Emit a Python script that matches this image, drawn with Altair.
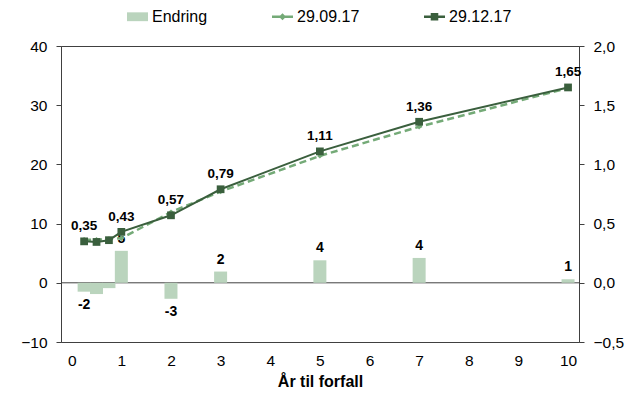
import altair as alt
import pandas as pd

# ---- data ----
maturity = [0.25, 0.5, 0.75, 1, 2, 3, 5, 7, 10]
yield_dec = [0.35, 0.345, 0.36, 0.43, 0.57, 0.79, 1.11, 1.36, 1.65]
yield_sep = [0.364, 0.364, 0.369, 0.376, 0.597, 0.771, 1.072, 1.318, 1.644]
change = [-1.5, -1.9, -0.9, 5.4, -2.7, 1.9, 3.8, 4.2, 0.6]
change_labels = ["-2", "", "", "5", "-3", "2", "4", "4", "1"]
yield_labels = ["0,35", "", "", "0,43", "0,57", "0,79", "1,11", "1,36", "1,65"]
series = ["Endring", "29.09.17", "29.12.17"]
x_ticks = [0, 1, 2, 3, 4, 5, 6, 7, 8, 9, 10]
left_ticks = [-10, 0, 10, 20, 30, 40]
right_ticks = [-0.5, 0, 0.5, 1.0, 1.5, 2.0]

C_BAR = "#bad4bd"
C_SEP = "#74aa77"
C_DEC = "#3a5f3d"
AX = "#404040"
FONT = "Liberation Sans"

df = pd.DataFrame({
    "m": maturity, "dec": yield_dec, "sep": yield_sep, "chg": change,
    "chg_lab": change_labels, "yld_lab": yield_labels,
})

x_enc = alt.X("m:Q",
              scale=alt.Scale(domain=[-0.115, 10.12], nice=False, zero=False),
              axis=alt.Axis(values=x_ticks, title="År til forfall", ticks=False, tickSize=0,
                            labelPadding=11, grid=False, domain=False,
                            labelFontSize=15.5, titleFontSize=16, titleFontWeight="bold",
                            titlePadding=5, labelColor="black", titleColor="black"))

left_scale = alt.Scale(domain=[-10, 40], nice=False, zero=False)
left_axis = alt.Axis(orient="left", values=left_ticks, title=None, grid=False,
                     tickSize=5, tickColor=AX, domainColor=AX, labelPadding=9,
                     labelFontSize=15.5, labelColor="black")
right_scale = alt.Scale(domain=[-0.5, 2.0], nice=False, zero=False)
right_axis = alt.Axis(orient="right", values=right_ticks, title=None, grid=False,
                      tickSize=5, tickColor=AX, domainColor=AX, labelPadding=9,
                      labelFontSize=15.5, labelColor="black",
                      labelExpr="replace(format(datum.value, '.1f'), '.', ',')")

base = alt.Chart(df)

zero_rule = base.mark_rule(color=AX, strokeWidth=1).encode(
    y=alt.Y("z:Q", scale=left_scale, axis=left_axis)
).transform_aggregate(n="count()").transform_calculate(z="0")

bars = base.mark_bar(color=C_BAR, size=13, clip=True).encode(
    x=x_enc, y=alt.Y("chg:Q", scale=left_scale, axis=left_axis))

bar_text = base.mark_text(fontWeight="bold", fontSize=14, color="black", baseline="middle").encode(
    x=x_enc, y=alt.Y("chg_y:Q", scale=left_scale, axis=left_axis), text="chg_lab:N"
).transform_filter("datum.chg_lab != ''").transform_calculate(
    chg_y="datum.chg >= 0 ? datum.chg + 2 : datum.chg - 2.2")

left = alt.layer(zero_rule, bars, bar_text)

y_sep_enc = alt.Y("sep:Q", scale=right_scale, axis=right_axis)
y_dec_enc = alt.Y("dec:Q", scale=right_scale, axis=right_axis)

sep_line = base.mark_line(color=C_SEP, strokeWidth=2.5, strokeDash=[7, 4]).encode(x=x_enc, y=y_sep_enc)
sep_pts = base.mark_point(shape="diamond", filled=True, size=30, color=C_SEP, opacity=1).encode(x=x_enc, y=y_sep_enc)
dec_line = base.mark_line(color=C_DEC, strokeWidth=2).encode(x=x_enc, y=y_dec_enc)
dec_pts = base.mark_point(shape="square", filled=True, size=60, color=C_DEC, opacity=1).encode(x=x_enc, y=y_dec_enc)
dec_text = base.mark_text(fontWeight="bold", fontSize=13.5, color="black", dy=-15).encode(
    x=x_enc, y=y_dec_enc, text="yld_lab:N").transform_filter("datum.yld_lab != ''")

shape_paths = [
    "M-1,-0.42L1,-0.42L1,0.42L-1,0.42Z",
    "M-1,-0.12L1,-0.12L1,0.12L-1,0.12Z M0,-0.34L0.34,0L0,0.34L-0.34,0Z",
    "M-1,-0.12L1,-0.12L1,0.12L-1,0.12Z M-0.36,-0.36L0.36,-0.36L0.36,0.36L-0.36,0.36Z",
]
leg_df = pd.DataFrame({"series": series})
legend_layer = alt.Chart(leg_df).mark_point(filled=True, opacity=1).encode(
    color=alt.Color("series:N",
                    scale=alt.Scale(domain=series, range=[C_BAR, C_SEP, C_DEC]),
                    legend=alt.Legend(orient="none", legendX=66, legendY=-40, direction="horizontal",
                                      title=None, symbolSize=441, symbolStrokeWidth=0,
                                      symbolOpacity=1, labelFontSize=16, labelOffset=4,
                                      columnPadding=64, labelColor="black", labelFont=FONT)),
    shape=alt.Shape("series:N", scale=alt.Scale(domain=series, range=shape_paths), legend=None),
).transform_filter("false")

right = alt.layer(sep_line, dec_line, sep_pts, dec_pts, dec_text, legend_layer)

chart = alt.layer(left, right).resolve_scale(y="independent").properties(
    width=518, height=296, autosize="none",
    padding={"left": 61, "top": 46, "right": 56, "bottom": 52},
).configure(font=FONT).configure_view(stroke=AX, strokeWidth=1)

chart.save("out.html", embed_options={"renderer": "svg", "actions": False})
